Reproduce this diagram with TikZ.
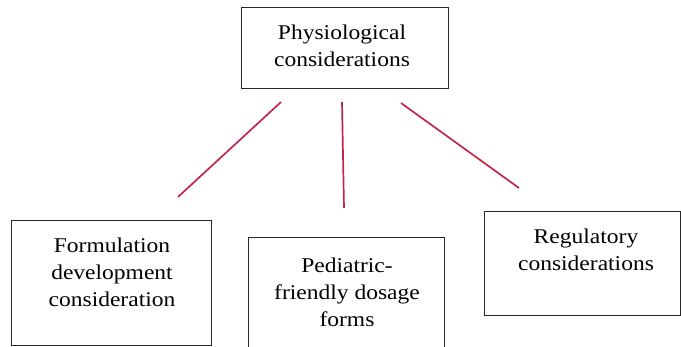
\documentclass[tikz,border=0pt]{standalone}
\usepackage{fontspec}
\setmainfont{Liberation Serif}[FakeStretch=1.12]
\definecolor{linkred}{RGB}{192,40,75}
\definecolor{boxline}{RGB}{40,40,40}
\tikzset{
  box/.style={draw=boxline, line width=1pt, fill=none, inner sep=0pt},
  lbl/.style={align=center, inner sep=0pt, font=\fontsize{21}{27}\selectfont, text=black},
  link/.style={draw=linkred, line width=1.7pt}
}
\begin{document}
\begin{tikzpicture}[x=1pt,y=-1pt]
\useasboundingbox (0,0) rectangle (681,347);
% boxes
\node[box, minimum width=207pt, minimum height=81pt] (top) at (344.5,48) {};
\node[box, minimum width=200pt, minimum height=125pt] (left) at (111,283.5) {};
\node[box, minimum width=196pt, minimum height=112pt] (mid) at (346,294) {};
\node[box, minimum width=196pt, minimum height=104pt] (right) at (582,264) {};
% labels
\node[lbl] (toptxt) at (342,46) {Physiological\\considerations};
\node[lbl] (lefttxt) at (112,272) {Formulation\\development\\consideration};
\node[lbl] (midtxt) at (347,292) {Pediatric-\\friendly dosage\\forms};
\node[lbl] (righttxt) at (586,250) {Regulatory\\considerations};
% connector ends
\coordinate (a1) at (281,102);
\coordinate (a2) at (178,197);
\coordinate (b1) at (342,102);
\coordinate (b2) at (344,208);
\coordinate (c1) at (401,103);
\coordinate (c2) at (519,188);
\draw[link] (a1) -- (a2);
\draw[link] (b1) -- (b2);
\draw[link] (c1) -- (c2);
\end{tikzpicture}
\end{document}
